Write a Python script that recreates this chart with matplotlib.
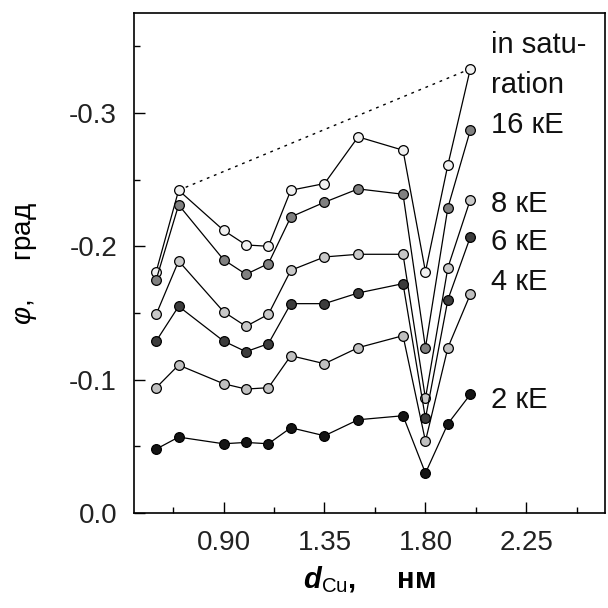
import matplotlib
matplotlib.use("Agg")
import matplotlib.pyplot as plt
from matplotlib.ticker import FixedLocator, FormatStrFormatter

plt.rcParams['font.family'] = ['Liberation Sans', 'DejaVu Sans']
plt.rcParams['mathtext.fontset'] = 'custom'
plt.rcParams['mathtext.rm'] = 'Liberation Sans'
plt.rcParams['mathtext.it'] = 'Liberation Sans:italic'
plt.rcParams['mathtext.bf'] = 'Liberation Sans:bold'
plt.rcParams['mathtext.bfit'] = 'Liberation Sans:bold:italic'

# ---- data ----
d_cu = [0.6, 0.7, 0.9, 1.0, 1.1, 1.2, 1.35, 1.5, 1.7, 1.8, 1.9, 2.0]
phi_sat = [-0.181, -0.242, -0.212, -0.201, -0.200, -0.242, -0.247, -0.282, -0.272, -0.181, -0.261, -0.333]
phi_16 = [-0.175, -0.231, -0.190, -0.179, -0.187, -0.222, -0.233, -0.243, -0.239, -0.124, -0.229, -0.287]
phi_8 = [-0.149, -0.189, -0.151, -0.140, -0.149, -0.182, -0.192, -0.194, -0.194, -0.086, -0.184, -0.235]
phi_6 = [-0.129, -0.155, -0.129, -0.121, -0.127, -0.157, -0.157, -0.165, -0.172, -0.071, -0.160, -0.207]
phi_4 = [-0.094, -0.111, -0.097, -0.093, -0.094, -0.118, -0.112, -0.124, -0.133, -0.054, -0.124, -0.164]
phi_2 = [-0.048, -0.057, -0.052, -0.053, -0.052, -0.064, -0.058, -0.070, -0.073, -0.030, -0.067, -0.089]

series = [phi_sat, phi_16, phi_8, phi_6, phi_4, phi_2]
face_colors = ['#f0f0f0', '#808080', '#c8c8c8', '#3c3c3c', '#c0c0c0', '#141414']

labels = ["in satu-", "ration", "16 кЕ", "8 кЕ", "6 кЕ", "4 кЕ", "2 кЕ"]
label_y = [-0.345, -0.315, -0.285, -0.2258, -0.1973, -0.1673, -0.0788]

x_ticks = [0.90, 1.35, 1.80, 2.25]
x_minor = [0.675, 1.125, 1.575, 2.025, 2.475]
y_ticks = [0.0, -0.1, -0.2, -0.3]
y_minor = [-0.05, -0.15, -0.25, -0.35]

# ---- figure ----
fig = plt.figure(figsize=(6.08, 6.08), dpi=100)
ax = fig.add_axes([0.220, 0.156, 0.775, 0.823])

# dotted saturation envelope
ax.plot([d_cu[1], d_cu[-1]], [phi_sat[1], phi_sat[-1]], color='black',
        lw=1.0, linestyle=(0, (2, 3.5)), zorder=1)

for vals, fc in zip(series, face_colors):
    ax.plot(d_cu, vals, color='black', lw=0.9, marker='o', markersize=7,
            markerfacecolor=fc, markeredgecolor='black', markeredgewidth=0.9,
            zorder=2)

for txt, yy in zip(labels, label_y):
    ax.text(2.092, yy, txt, fontsize=21, ha='left', va='baseline', color='#111111')

ax.set_xlim(0.5, 2.6)
ax.set_ylim(0.0, -0.375)

ax.xaxis.set_major_locator(FixedLocator(x_ticks))
ax.xaxis.set_minor_locator(FixedLocator(x_minor))
ax.yaxis.set_major_locator(FixedLocator(y_ticks))
ax.yaxis.set_minor_locator(FixedLocator(y_minor))
ax.xaxis.set_major_formatter(FormatStrFormatter('%.2f'))
ax.yaxis.set_major_formatter(FormatStrFormatter('%.1f'))

ax.tick_params(which='both', direction='in', top=False, right=False,
               labelsize=20, pad=12, width=1.0, colors='black', labelcolor='#222222')
ax.tick_params(which='major', length=8)
ax.tick_params(which='minor', length=4.5)

for s in ax.spines.values():
    s.set_linewidth(1.2)

ax.set_xlabel(r'$\mathbfit{d}_{\mathrm{Cu}}$,' + '     нм', fontsize=21,
              fontweight='bold', labelpad=6)
ax.set_ylabel(r'$\varphi$,' + '     град', fontsize=20, labelpad=22)

fig.savefig('out.png', dpi=100)
